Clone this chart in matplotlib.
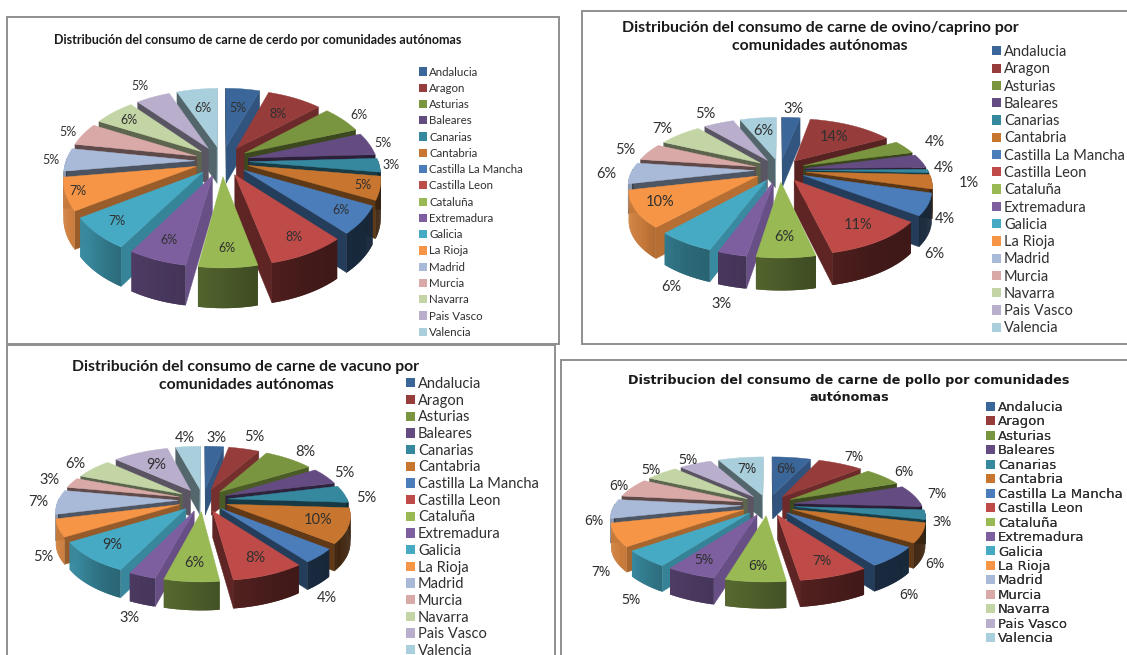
import numpy as np
import matplotlib
matplotlib.use("Agg")
import matplotlib.pyplot as plt
from matplotlib.patches import Polygon, Patch, Rectangle
from matplotlib.colors import to_rgb

regions = ["Andalucia", "Aragon", "Asturias", "Baleares", "Canarias", "Cantabria",
           "Castilla La Mancha", "Castilla Leon", "Cataluña", "Extremadura", "Galicia",
           "La Rioja", "Madrid", "Murcia", "Navarra", "Pais Vasco", "Valencia"]
colors = ["#3B6699", "#963C3A", "#7A953F", "#644B82", "#36889F", "#C8762F", "#4A7DBA", "#BE4B48",
          "#98B954", "#7D5FA0", "#46AAC4", "#F69545", "#A9BAD8", "#D9A9A8", "#C3D5A5", "#B9AECC", "#A9CFDC"]

cerdo = [5, 8, 6, 5, 3, 5, 6, 8, 6, 6, 7, 7, 5, 5, 6, 5, 6]
ovino = [3, 14, 4, 4, 1, 4, 6, 11, 6, 3, 6, 10, 6, 5, 7, 5, 6]
vacuno = [3, 5, 8, 5, 5, 10, 4, 8, 6, 3, 9, 5, 7, 3, 6, 9, 4]
pollo = [6, 7, 6, 7, 3, 6, 6, 7, 6, 5, 5, 7, 6, 6, 5, 5, 7]

title_cerdo = "Distribución del consumo de carne de cerdo por comunidades autónomas"
title_ovino = "Distribución del consumo de carne de ovino/caprino por\ncomunidades autónomas"
title_vacuno = "Distribución del consumo de carne de vacuno por\ncomunidades autónomas"
title_pollo = "Distribucion del consumo de carne de pollo por comunidades\nautónomas"

W, H = 1127, 655
fig = plt.figure(figsize=(W / 100, H / 100), dpi=100, facecolor="white")
ax = fig.add_axes([0, 0, 1, 1])
ax.set_xlim(0, W)
ax.set_ylim(H, 0)
ax.axis("off")

FRAME = "#8f8f8f"
for x0, y0, x1, y1 in [(7, 17, 559, 344), (582, 11, 1140, 344), (7, 345, 555, 670), (561, 360, 1140, 670)]:
    ax.add_patch(Rectangle((x0, y0), x1 - x0, y1 - y0, fc="white", ec=FRAME, lw=1.4))


def shade(c, f):
    return tuple(np.clip(np.array(to_rgb(c)) * f, 0, 1))


def radial_f(phi):
    phi = ((phi + 180) % 360) - 180
    return np.interp(phi, [-180, -120, -90, -70, -47, -18, 0], [.5, .48, .42, .48, .72, .82, .85])


def wall_f(t):
    t = ((t + 180) % 360) - 180
    return np.interp(t, [-180, -160, -140, -120, -100, -80, -60, -20, 0],
                     [.85, .85, .8, .62, .55, .42, .34, .3, .3])


def draw_pie(values, p):
    cx, cy, R, Rv, k, e, depth = p["cx"], p["cy"], p["R"], p["Rv"], p["k"], p["e"], p["depth"]

    def proj(u, v, z=0, rad=R):
        s = 1 / (1 + k * v)
        return cx + rad * u * s, cy - Rv * v * s + depth * z * s ** .4

    frac = np.array(values, float) / np.sum(values)
    edges = 90 - 360 * np.concatenate([[0], np.cumsum(frac)])
    mids = (edges[:-1] + edges[1:]) / 2
    order = sorted(range(len(values)), key=lambda i: -np.sin(np.radians(mids[i])))
    for i in order:
        ts, te, tm = edges[i], edges[i + 1], mids[i]
        ox, oy = e * np.cos(np.radians(tm)), e * np.sin(np.radians(tm))
        th = np.radians(np.linspace(ts, te, max(int(ts - te) * 2, 3)))
        us = ox + np.cos(th)
        vs = oy + np.sin(th)
        col = colors[i]
        # radial walls
        for t, nrm in ((ts, ts + 90), (te, te - 90)):
            if np.sin(np.radians(nrm)) < 0.02:
                uo, vo = ox + np.cos(np.radians(t)), oy + np.sin(np.radians(t))
                pts = [proj(ox, oy), proj(uo, vo), proj(uo, vo, 1), proj(ox, oy, 1)]
                f = shade(col, radial_f(nrm))
                ax.add_patch(Polygon(pts, fc=f, ec=f, lw=.3))
        # outer wall: each strip overlaps the next one, so no seams show
        for j in range(len(th) - 1):
            tmid = np.degrees((th[j] + th[j + 1]) / 2)
            if np.sin(np.radians(tmid)) < 0.03:
                n = min(j + 2, len(th) - 1)
                pts = [proj(us[j], vs[j]), proj(us[n], vs[n]), proj(us[n], vs[n], 1), proj(us[j], vs[j], 1)]
                f = shade(col, wall_f(tmid))
                ax.add_patch(Polygon(pts, fc=f, ec="none"))
        top = [proj(ox, oy)] + [proj(a, b) for a, b in zip(us, vs)]
        ax.add_patch(Polygon(top, fc=col, ec=col, lw=.3))
    # data labels
    for i, (v, m) in enumerate(zip(values, mids)):
        rho, z = p["labels"][i]
        u, vv = rho * np.cos(np.radians(m)), rho * np.sin(np.radians(m))
        x, y = proj(u, vv, z, p["RL"])
        ax.text(x, y, f"{v}%", ha="center", va="center", fontsize=p["lfs"], color="#303030",
                family=p["font"], zorder=20)
    ax.text(p["tx"], p["ty"], p["title"], ha="center", va="center", fontsize=p["tfs"], fontweight="bold",
            family=p["tfont"], color="#1a1a1a", linespacing=p["tls"], zorder=20)
    handles = [Patch(fc=c, ec="none") for c in colors]
    leg = ax.legend(handles, regions, loc="upper left", bbox_to_anchor=(p["lx"], p["ly"]),
                    bbox_transform=ax.transData, frameon=False, borderpad=0, borderaxespad=0,
                    handlelength=p["hl"], handleheight=p["hl"], handletextpad=p["htp"],
                    labelspacing=p["ls"], prop={"family": p["font2"], "size": p["lgfs"]},
                    labelcolor="#303030")
    leg.set_zorder(20)
    ax.add_artist(leg)


panels = [
    (cerdo, dict(cx=222, cy=161, R=129, RL=132, Rv=71.6, k=.157, e=.21, depth=37, title=title_cerdo, tx=258, ty=40,
                 tfs=9.0, tls=1.2, tfont="Lato", font="Lato", font2="Lato", lfs=9, lgfs=8.3,
                 lx=419, ly=66.5, hl=.72, htp=.15, ls=.457,
                 labels=[(.85, 0), (.88, 0), (1.36, 0), (1.3, 0), (1.27, 0), (1.06, 0), (1.02, 0), (1.02, 0), (1.02, 0),
                         (1.0, 0), (1.02, 0), (1.1, 0), (1.3, 0), (1.32, 0), (1.0, 0), (1.45, 0), (.85, 0)])),
    (ovino, dict(cx=780, cy=170, R=122, RL=125, Rv=54.5, k=.207, e=.21, depth=29, title=title_ovino, tx=820, ty=37,
                 tfs=11.4, tls=1.35, tfont="Lato", font="Lato", font2="Lato", lfs=10.5, lgfs=10.5,
                 lx=992, ly=45, hl=.6, htp=.22, ls=.225,
                 labels=[(1.47, 0), (.85, 0), (1.5, 0), (1.38, .3), (1.5, .4), (1.28, 1.25), (1.23, 1.6), (.98, 0), (.98, 0),
                         (1.38, 1), (1.32, 1.1), (1.0, 0), (1.37, 0), (1.4, 0), (1.42, 0), (1.5, 0), (.85, 0)])),
    (vacuno, dict(cx=203, cy=500, R=119.5, RL=122, Rv=53.7, k=.171, e=.21, depth=26, title=title_vacuno, tx=246, ty=376,
                  tfs=11.3, tls=1.4, tfont="Lato", font="Lato", font2="Lato", lfs=10.5, lgfs=10.5,
                  lx=406, ly=377, hl=.6, htp=.22, ls=.184,
                  labels=[(1.45, 0), (1.55, 0), (1.45, 0), (1.38, 0), (1.37, .2), (.95, 0), (1.25, 1.45), (.98, 0), (.98, 0),
                          (1.38, 1), (.98, 0), (1.3, 1), (1.34, 0), (1.4, 0), (1.4, 0), (.85, 0), (1.45, 0)])),
    (pollo, dict(cx=768, cy=505, R=127, RL=130, Rv=49, k=.19, e=.21, depth=24, title=title_pollo, tx=849, ty=389,
                 tfs=9.2, tls=1.35, tfont="DejaVu Sans", font="Noto Sans", font2="DejaVu Sans", lfs=10, lgfs=9.5,
                 lx=986, ly=401, hl=.66, htp=.26, ls=.11,
                 labels=[(.85, 0), (1.45, 0), (1.42, 0), (1.37, 0), (1.3, .3), (1.27, 1.2), (1.3, 1.3), (1.0, 0), (1.02, 0),
                         (1.02, 0), (1.3, 1.4), (1.28, 1.4), (1.32, .5), (1.3, 0), (1.32, 0), (1.32, 0), (.85, 0)])),
]
for vals, p in panels:
    draw_pie(vals, p)

fig.savefig("out.png", dpi=100, facecolor="white")
